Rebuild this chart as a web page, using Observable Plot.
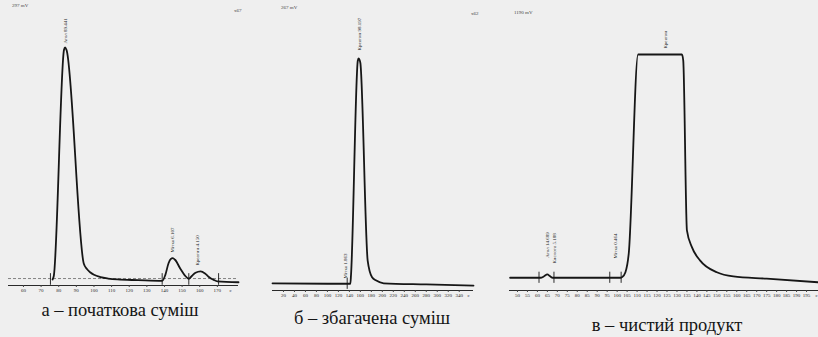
<!DOCTYPE html>
<html>
<head>
<meta charset="utf-8">
<script src="https://cdn.jsdelivr.net/npm/d3@7"></script>
<script src="https://cdn.jsdelivr.net/npm/@observablehq/plot@0.6"></script>
<style>
  html, body { margin: 0; padding: 0; background: #efefef; }
  #wrap { position: relative; width: 818px; height: 337px; overflow: hidden; background: #efefef; }
  .panel { position: absolute; }
  .cap { position: absolute; font-family: "Liberation Serif", "Times New Roman", "DejaVu Serif", serif; font-size: 18.5px; color: #151515; white-space: nowrap; transform: translateX(-50%); line-height: 1; }
  .corner { position: absolute; font-family: "Liberation Serif", serif; font-size: 5px; color: #444; white-space: nowrap; }
</style>
</head>
<body>
<div id="wrap"></div>
<script>
// ---------- Panel а: початкова суміш ----------
const aTime = [76.5, 77.2, 83.0, 83.6, 84.4, 94.2, 96, 98, 100, 103.7, 108, 113.4, 125, 138.7, 140.5, 142.3, 143.5, 144.7, 146, 149.1, 151.5, 153.8, 155.5, 157.6, 160.5, 163, 165, 168, 170, 182];
const aSignal = [0, 1.5, 99, 100, 99, 6.9, 4.5, 3.0, 2.0, 1.0, 0.4, 0, -0.3, -0.6, 2, 7, 8.8, 9.2, 8.5, 4.5, 1.8, 0.3, 1.5, 2.9, 3.5, 2.6, 1.2, -0.2, -0.8, -1.2];
const aTicks = [60, 70, 80, 90, 100, 110, 120, 130, 140, 150, 160, 170];
const aMarkers = [75.3, 138.7, 153.8, 170.7];
const aPeakNames = ["Атол 89.441", "Мітка 6.107", "Креатин 4.150"];
const aPeakTime = [83.6, 144.6, 158.8];
const aPeakY = [101.7, 11.6, 6];

// ---------- Panel б: збагачена суміш ----------
const bTime = [0, 100, 141.8, 143, 155.3, 156.8, 158.3, 160, 173.3, 181.3, 189, 202.4, 280, 366];
const bSignal = [0.2, 0, 0, 4, 99, 100, 99.5, 98, 10.3, 2.9, 1.4, 0.2, -0.3, -0.8];
const bTicks = [20, 40, 60, 80, 100, 120, 140, 160, 180, 200, 220, 240, 260, 280, 300, 320, 340];
const bMarkers = [136];
const bPeakNames = ["Мітка 1.863", "Креатин 98.197"];
const bPeakTime = [132.7, 158.2];
const bPeakY = [2.3, 103.6];

// ---------- Panel в: чистий продукт ----------
const cTime = [46.3, 61.65, 63.2, 65, 66.2, 67.7, 101.65, 102.5, 104.15, 105.8, 110.5, 132.5, 133.15, 135, 137.5, 141.65, 150, 158.3, 175, 200.65];
const cSignal = [0, 0, 0.6, 1.5, 0.8, 0, 0, 0.3, 2.5, 10.7, 100, 100, 97.3, 21.2, 13.7, 7.7, 2.5, 0.6, -0.4, -2.0];
const cTicks = [50, 55, 60, 65, 70, 75, 80, 85, 90, 95, 100, 105, 110, 115, 120, 125, 130, 135, 140, 145, 150, 155, 160, 165, 170, 175, 180, 185, 190, 195];
const cMarkers = [60.8, 68.3, 96.3, 102];
const cPeakNames = ["Атол 14.689", "Кислота 5.188", "Мітка 0.464", "Креатин"];
const cPeakTime = [65, 68.3, 99.15, 124.2];
const cPeakY = [9, 6.4, 8.6, 102.7];

const ink = "#161616";

function panel(o) {
  const curve = o.time.map((t, i) => ({t, v: o.signal[i]}));
  const peaks = o.names.map((n, i) => ({n, t: o.peakT[i], v: o.peakY[i]}));
  const svg = Plot.plot({
    width: o.width, height: o.height,
    marginTop: o.mt, marginBottom: o.mb, marginLeft: o.ml, marginRight: o.mr,
    style: {background: "transparent", fontFamily: "Liberation Serif", color: "#333", overflow: "visible"},
    x: {domain: o.xd, axis: null},
    y: {domain: o.yd, axis: null},
    marks: [
      o.dashed ? Plot.ruleY([o.dashed], {x1: o.xd[0], x2: o.xd[1], stroke: "#555", strokeWidth: 0.7, strokeDasharray: "3,2"}) : null,
      Plot.ruleY([o.yd[0]], {x1: o.xd[0], x2: o.xd[1], stroke: "#2a2a2a", strokeWidth: 1}),
      Plot.axisX(o.ticks, {tickSize: 2, tickPadding: 1, fontSize: 5, stroke: "#444", fill: "#2a2a2a", anchor: "bottom", label: null}),
      Plot.text([o.unit], {x: o.unitT, y: o.yd[0], dy: 5, fontSize: 5, fill: "#333", textAnchor: "middle"}),
      Plot.ruleX(o.markers, {x: d => d, y1: -2.5, y2: 2.5, stroke: ink, strokeWidth: 0.9}),
      Plot.line(curve, {x: "t", y: "v", stroke: ink, strokeWidth: 1.8, curve: "monotone-x"}),
      Plot.text(peaks, {x: "t", y: "v", text: "n", rotate: -90, textAnchor: "start", fontSize: 5, fill: "#222"})
    ]
  });
  svg.classList.add("panel");
  svg.style.left = o.left + "px";
  svg.style.top = "0px";
  return svg;
}

const wrap = document.getElementById("wrap");
wrap.appendChild(panel({
  left: 0, width: 245, height: 300, mt: 47, mb: 15, ml: 8, mr: 7,
  xd: [51.5, 182], yd: [-2.6, 100], dashed: 0.4,
  time: aTime, signal: aSignal, ticks: aTicks, unit: "с", unitT: 177.5,
  markers: aMarkers, names: aPeakNames, peakT: aPeakTime, peakY: aPeakY
}));
wrap.appendChild(panel({
  left: 262, width: 218, height: 305, mt: 58, mb: 15, ml: 10, mr: 7,
  xd: [0, 366], yd: [-3, 100], dashed: null,
  time: bTime, signal: bSignal, ticks: bTicks, unit: "с", unitT: 357,
  markers: bMarkers, names: bPeakNames, peakT: bPeakTime, peakY: bPeakY
}));
wrap.appendChild(panel({
  left: 500, width: 318, height: 305, mt: 54, mb: 15, ml: 9, mr: 0,
  xd: [46, 201], yd: [-5.7, 100], dashed: null,
  time: cTime, signal: cSignal, ticks: cTicks, unit: "с", unitT: 200,
  markers: cMarkers, names: cPeakNames, peakT: cPeakTime, peakY: cPeakY
}));

const captions = [
  {text: "а – початкова суміш", x: 120, top: 301},
  {text: "б – збагачена суміш", x: 372, top: 309},
  {text: "в – чистий продукт", x: 667, top: 316}
];
captions.forEach(c => {
  const d = document.createElement("div");
  d.className = "cap"; d.textContent = c.text;
  d.style.left = c.x + "px"; d.style.top = c.top + "px";
  wrap.appendChild(d);
});
const corners = [
  {text: "297 mV", x: 12, y: 3}, {text: "x67", x: 234, y: 8},
  {text: "267 mV", x: 281, y: 5}, {text: "x62", x: 471, y: 11},
  {text: "1190 mV", x: 514, y: 10}
];
corners.forEach(c => {
  const d = document.createElement("div");
  d.className = "corner"; d.textContent = c.text;
  d.style.left = c.x + "px"; d.style.top = c.y + "px";
  wrap.appendChild(d);
});
</script>
</body>
</html>
